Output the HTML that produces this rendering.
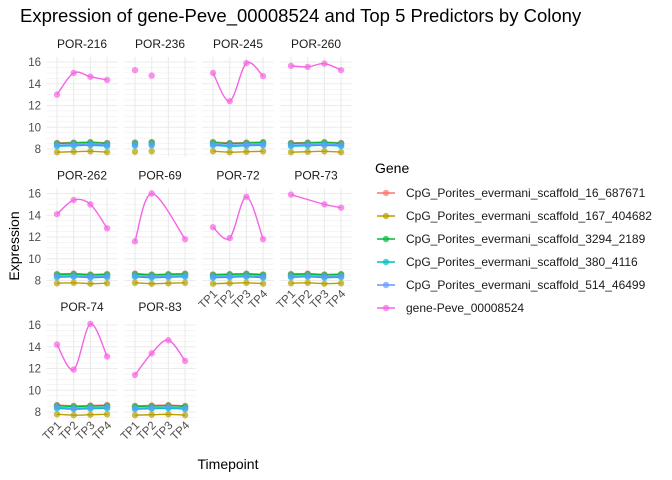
<!DOCTYPE html><html><head><style>body{margin:0;background:#fff}svg{display:block;font-family:"Liberation Sans",sans-serif}</style></head><body>
<svg id="s" width="672" height="480" xmlns="http://www.w3.org/2000/svg">
<text x="20" y="22" font-size="18.5" fill="#000">Expression of gene-Peve_00008524 and Top 5 Predictors by Colony</text>
<text transform="translate(19,246) rotate(-90)" text-anchor="middle" font-size="14" fill="#000">Expression</text>
<text x="228" y="469" text-anchor="middle" font-size="14" fill="#000">Timepoint</text>
<text x="375" y="173" font-size="14" fill="#000">Gene</text>
</svg>
<script>
var s=document.getElementById('s'),NS='http://www.w3.org/2000/svg';
function el(t,a,txt){var e=document.createElementNS(NS,t);for(var k in a)e.setAttribute(k,a[k]);if(txt)e.textContent=txt;s.appendChild(e);return e;}
var cols=['#F8766D','#B79F00','#00BA38','#00BFC4','#619CFF','#F564E3'];
var names=['CpG_Porites_evermani_scaffold_16_687671','CpG_Porites_evermani_scaffold_167_404682','CpG_Porites_evermani_scaffold_3294_2189','CpG_Porites_evermani_scaffold_380_4116','CpG_Porites_evermani_scaffold_514_46499','gene-Peve_00008524'];
var N=null;
var panels=[
['POR-216',[13.0,15.0,14.65,14.35]],['POR-236',[15.25,14.75,N,N]],['POR-245',[15.0,12.4,15.9,14.7]],['POR-260',[15.65,15.55,15.85,15.25]],
['POR-262',[14.1,15.4,15.0,12.8]],['POR-69',[11.6,16.0,N,11.8]],['POR-72',[12.9,11.9,15.7,11.8]],['POR-73',[15.9,N,15.0,14.7]],
['POR-74',[14.2,11.9,16.1,13.1]],['POR-83',[11.4,13.4,14.6,12.7]]];
var base=[8.6,7.75,8.55,8.3,8.4];
var lefts=[46.5,124.5,202.5,280.5],tops=[57,188.5,320];
function path(pts){var d='M'+pts[0][0]+','+pts[0][1];for(var i=0;i<pts.length-1;i++){var p0=pts[i-1]||pts[i],p1=pts[i],p2=pts[i+1],p3=pts[i+2]||p2;d+=' C'+(p1[0]+(p2[0]-p0[0])/6)+','+(p1[1]+(p2[1]-p0[1])/6)+' '+(p2[0]-(p3[0]-p1[0])/6)+','+(p2[1]-(p3[1]-p1[1])/6)+' '+p2[0]+','+p2[1];}return d;}
panels.forEach(function(p,idx){var r=Math.floor(idx/4),c=idx%4,L=lefts[c],T=tops[r];
 var X=function(i){return L+10.5+i*16.7},Y=function(v){return T+5+(16-v)*10.875};
 for(var v=7.5;v<=16.5;v+=0.5){var y=Y(v);if(y<T||y>T+100)continue;el('line',{x1:L,x2:L+71,y1:y,y2:y,stroke:'#ebebeb','stroke-width':(v%2==0)?1.1:0.5});}
 for(var i=0;i<4;i++)el('line',{x1:X(i),x2:X(i),y1:T,y2:T+100,stroke:'#ebebeb','stroke-width':1.1});
 el('text',{x:L+35.5,y:T-9,'text-anchor':'middle','font-size':12,fill:'#1a1a1a'},p[0]);
 if(c==0)[8,10,12,14,16].forEach(function(v){el('text',{x:41,y:Y(v)+4,'text-anchor':'end','font-size':11.5,fill:'#4d4d4d'},v)});
 if(r==2||(r==1&&c>=2))for(var i=0;i<4;i++)el('text',{'text-anchor':'end','font-size':11.5,fill:'#4d4d4d',transform:'translate('+(X(i)+5)+','+(T+106)+') rotate(-45)'},'TP'+(i+1));
 var nb=(p[0]=='POR-236')?2:4;
 var series=base.map(function(b,k){var a=[];for(var i=0;i<4;i++)a.push(i<nb?b+((i*7+k*3+idx)%3-1)*0.04:N);return a;});
 series.push(p[1]);
 series.forEach(function(vals,k){var pts=[];vals.forEach(function(v,i){if(v!==N)pts.push([X(i),Y(v)])});
  if(pts.length>1&&!(p[0]=='POR-236'))el('path',{d:path(pts),fill:'none',stroke:cols[k],'stroke-width':1.4});
  pts.forEach(function(q){el('circle',{cx:q[0],cy:q[1],r:3.2,fill:cols[k],'fill-opacity':0.7})});});
});
names.forEach(function(n,k){var y=193+k*23;el('line',{x1:377,x2:395,y1:y,y2:y,stroke:cols[k],'stroke-width':1.4});el('circle',{cx:386,cy:y,r:3.2,fill:cols[k],'fill-opacity':0.7});el('text',{x:406,y:y+4,'font-size':12,fill:'#1a1a1a'},n);});
</script></body></html>
